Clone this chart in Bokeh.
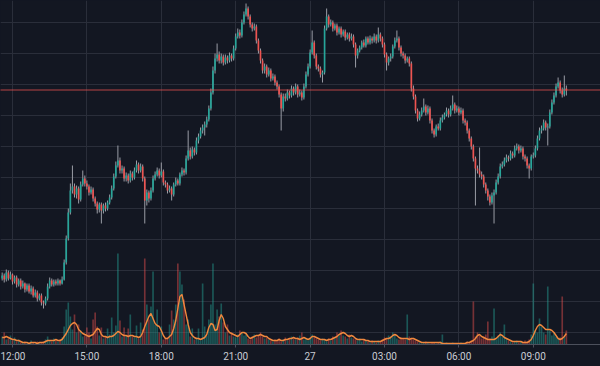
import pandas as pd
from bokeh.plotting import figure
from bokeh.models import (Range1d, FixedTicker, SingleIntervalTicker, Span,
                          ColumnDataSource, GlobalInlineStyleSheet)
from bokeh.embed import file_html
from bokeh.resources import INLINE

# ---------------- data (5-minute candles) ----------------
start_time = "2024-02-26 11:35"

open_ = [85,88,84,91,85,89,82,86,79,83,
77,80,74,78,72,75,68,71,65,68,
61,60,65,77,83,79,82,80,83,80,
84,101,125,151,173,177,169,175,164,179,
185,180,177,171,174,165,160,154,159,153,
158,155,161,166,175,187,198,203,193,195,
185,188,183,190,186,193,199,193,197,185,
163,171,165,173,185,189,193,188,192,181,
179,173,175,169,179,183,180,189,193,191,
205,213,207,214,211,223,227,233,236,239,
244,255,271,293,305,309,303,307,301,306,
303,308,305,315,327,331,328,341,349,355,
347,339,335,337,323,313,303,293,297,289,
293,285,287,281,277,269,255,267,265,271,
268,275,271,277,269,271,266,277,289,297,
311,321,308,297,295,289,291,335,347,339,
341,335,338,331,335,329,332,326,329,325,
327,319,308,313,316,321,318,325,321,325,
323,327,323,329,325,319,309,301,305,307,
317,323,325,316,310,308,303,305,300,275,
267,253,245,249,253,257,251,255,243,233,
229,237,235,243,246,249,253,249,255,259,
253,255,251,253,243,241,233,225,217,205,
195,193,189,187,179,173,167,161,168,171,
181,187,197,199,203,206,205,210,208,215,
217,213,215,207,205,198,195,207,208,215,
225,233,235,241,236,237,251,261,268,277,
281,273,269,275]

close = [88,84,91,85,89,82,86,79,83,77,
80,74,78,72,75,68,71,65,68,61,
60,65,77,83,79,82,80,83,80,84,
101,125,151,173,177,169,175,164,179,185,
180,177,171,174,165,160,154,159,153,158,
155,161,166,175,187,198,203,193,195,185,
188,183,190,186,193,199,193,197,185,163,
171,165,173,185,189,193,188,192,181,179,
173,175,169,179,183,180,189,193,191,205,
213,207,214,211,223,227,233,236,239,244,
255,271,293,305,309,303,307,301,306,303,
308,305,315,327,331,328,341,349,355,347,
339,335,337,323,313,303,293,297,289,293,
285,287,281,277,269,255,267,265,271,268,
275,271,277,269,271,266,277,289,297,311,
321,308,297,295,289,291,335,347,339,341,
335,338,331,335,329,332,326,329,325,327,
319,308,313,316,321,318,325,321,325,323,
327,323,329,325,319,309,301,305,307,317,
323,325,316,310,308,303,305,300,275,267,
253,245,249,253,257,251,255,243,233,229,
237,235,243,246,249,253,249,255,259,253,
255,251,253,243,241,233,225,217,205,195,
193,189,187,179,173,167,161,168,171,181,
187,197,199,203,206,205,210,208,215,217,
213,215,207,205,198,195,207,208,215,225,
233,235,241,236,237,251,261,268,277,281,
273,269,275,273]

high = [91,90,94,93,92,90,88,88,85,85,
83,81,80,80,78,77,74,73,70,70,
63,67,80,86,85,84,84,85,84,87,
104,128,155,180,198,180,178,177,182,193,
188,183,179,177,176,167,162,161,161,160,
161,163,169,178,190,202,218,206,198,197,
191,190,193,192,196,203,201,200,199,187,
174,173,176,188,192,196,195,201,194,183,
181,178,177,181,186,185,191,196,195,208,
233,216,217,216,226,230,236,239,242,247,
258,275,297,310,320,312,310,309,309,308,
311,310,318,330,335,334,344,352,360,357,
349,341,340,339,325,315,305,300,299,296,
295,290,289,283,279,271,270,270,274,273,
278,277,280,279,274,273,280,292,300,314,
333,323,310,299,297,293,338,355,349,344,
343,340,340,337,337,334,334,331,331,330,
329,321,315,318,323,324,327,327,328,327,
330,329,336,331,327,321,311,307,310,319,
326,333,327,318,312,310,307,307,302,278,
269,255,252,256,265,259,258,257,245,235,
239,240,246,249,251,256,255,258,268,261,
258,257,256,255,245,243,235,227,219,207,
198,216,192,189,181,175,169,171,174,184,
190,200,202,206,209,208,213,212,218,220,
219,218,217,209,207,200,209,211,218,228,
236,238,244,243,240,254,264,271,280,286,
283,276,288,278]

low = [83,81,82,83,84,79,80,76,77,74,
75,71,72,70,69,66,66,62,63,58,
55,58,63,75,77,77,78,78,78,79,
83,99,123,149,170,166,165,160,162,177,
177,174,168,169,162,157,150,151,140,150,
152,153,159,164,173,185,196,190,190,182,
182,180,181,183,184,191,190,191,182,140,
158,161,163,171,183,187,185,186,178,176,
170,171,163,167,177,178,178,187,188,189,
203,204,205,208,209,220,225,230,228,236,
242,253,269,290,302,300,300,298,299,300,
301,302,303,313,325,325,326,339,347,344,
336,332,333,320,310,300,290,290,286,287,
282,283,278,274,266,233,252,262,263,265,
266,268,269,266,267,263,264,275,287,295,
309,305,294,292,286,281,289,333,336,337,
332,333,328,329,326,327,323,324,322,323,
316,296,305,311,314,316,316,319,319,320,
321,320,321,322,316,306,293,298,302,305,
315,321,313,307,305,300,301,297,272,264,
250,242,243,247,251,248,249,240,230,226,
227,233,233,241,244,247,246,247,253,250,
251,248,249,240,238,230,222,214,202,158,
190,186,184,176,170,163,158,159,140,169,
179,185,195,197,201,202,203,205,206,213,
210,211,204,202,195,185,193,205,206,213,
223,230,233,233,218,235,249,259,266,275,
270,266,267,268]

volume = [8,12,5,6,9,4,7,3,5,2,
2,3,1,2,4,2,1,3,2,2,
3,5,8,4,3,6,4,3,5,7,
18,35,42,28,15,30,12,20,14,8,
9,17,12,6,25,32,18,9,17,6,
8,16,10,27,12,19,91,24,8,17,
9,16,30,8,7,19,6,22,15,86,
40,25,38,73,20,35,12,18,5,6,
7,20,34,25,40,81,73,60,45,20,
25,8,16,5,7,16,4,61,18,9,
25,40,81,20,35,28,41,22,12,20,
9,12,8,7,10,14,12,9,11,6,
5,8,10,7,9,12,8,6,7,5,
4,3,5,4,6,3,5,7,4,6,
8,6,5,7,9,12,5,6,4,7,
10,7,6,5,4,6,5,3,6,4,
8,7,12,10,14,9,8,6,10,7,
6,5,4,6,3,5,4,3,2,4,
3,2,4,3,5,7,6,9,8,12,
10,6,5,7,6,5,30,8,6,5,
4,3,2,1,2,3,2,1,2,2,
1,2,3,10,1,2,1,1,2,1,
1,1,2,1,1,3,2,4,43,8,
12,9,6,8,10,23,6,8,36,5,
9,12,8,20,6,4,3,2,3,4,
2,3,2,4,3,5,10,61,14,12,
26,18,12,10,58,14,9,12,8,6,
7,48,8,14]

volume_ma = [7,7,8,7,6,5,5,4,4,3,
2,2,2,1,2,2,2,1,2,2,
2,3,4,4,4,4,5,4,4,5,
8,11,15,19,21,22,20,15,13,11,
10,9,8,9,10,13,16,15,10,8,
8,7,8,8,9,11,13,12,10,9,
9,8,9,9,8,8,7,8,12,18,
23,28,31,26,21,19,18,14,9,6,
6,8,10,16,24,36,48,50,40,30,
20,12,9,7,6,6,5,6,7,10,
17,21,20,14,15,24,30,26,18,15,
12,11,10,9,8,10,12,12,11,8,
6,7,8,9,9,10,9,8,8,6,
5,4,4,4,5,4,4,5,5,6,
6,7,6,6,5,6,7,6,5,6,
8,8,7,6,5,5,5,4,5,5,
6,7,8,10,11,12,11,9,8,9,
8,6,5,5,5,5,4,4,3,3,
3,3,3,3,4,5,6,6,7,9,
10,9,7,6,6,6,6,5,6,6,
5,4,3,2,2,2,2,2,2,2,
2,2,2,1,1,1,1,1,1,1,
1,1,1,1,1,2,2,3,4,6,
9,10,8,7,6,5,5,5,5,6,
8,10,9,7,6,5,4,3,3,3,
3,3,2,2,2,3,5,9,14,18,
20,19,17,15,15,15,14,12,9,6,
5,6,8,11]

last_price = 273.5

tick_times = ["2024-02-26 12:00", "2024-02-26 15:00", "2024-02-26 18:00", "2024-02-26 21:00",
              "2024-02-27 00:00", "2024-02-27 03:00", "2024-02-27 06:00", "2024-02-27 09:00"]
tick_labels = ["12:00", "15:00", "18:00", "21:00", "27", "03:00", "06:00", "09:00"]

view_start = "2024-02-26 11:30:58"
view_end = "2024-02-27 11:42:35"

# ---------------- styling ----------------
BG = "#131722"
GRID = "#2a2e3a"
UP = "#26a69a"
DOWN = "#ef5350"
WICK = "#9a9da6"
TEXT = "#c9ccd3"

times = pd.date_range(start_time, periods=len(close), freq="5min")
is_up = [c >= o for o, c in zip(open_, close)]
src = ColumnDataSource(dict(
    t=times,
    open=open_, close=close, high=high, low=low,
    top=[max(o, c) for o, c in zip(open_, close)],
    bottom=[min(o, c) for o, c in zip(open_, close)],
    color=[UP if u else DOWN for u in is_up],
    volume=volume, ma=volume_ma,
))

p = figure(width=600, height=366, x_axis_type="datetime", y_axis_location=None,
           output_backend="svg", toolbar_location=None,
           x_range=Range1d(pd.Timestamp(view_start), pd.Timestamp(view_end)),
           y_range=Range1d(19, 363),
           min_border_left=0, min_border_right=0, min_border_top=0, min_border_bottom=22)
p.extra_y_ranges = {"vol": Range1d(0, 344)}

p.background_fill_color = BG
p.border_fill_color = BG
p.outline_line_color = None

p.ygrid.ticker = SingleIntervalTicker(interval=31)
p.grid.grid_line_color = GRID
p.grid.grid_line_width = 1

tick_ms = [pd.Timestamp(t).value // 10**6 for t in tick_times]
p.xaxis.ticker = FixedTicker(ticks=tick_ms)
p.xaxis.major_label_overrides = {ms: lbl for ms, lbl in zip(tick_ms, tick_labels)}
p.xgrid.ticker = FixedTicker(ticks=tick_ms)
p.xaxis.axis_line_color = "#4c505c"
p.xaxis.axis_line_width = 1
p.xaxis.major_tick_line_color = "#4c505c"
p.xaxis.major_tick_out = 3
p.xaxis.major_tick_in = 0
p.xaxis.minor_tick_line_color = None
p.xaxis.major_label_text_color = TEXT
p.xaxis.major_label_text_font = "Roboto"
p.xaxis.major_label_text_font_size = "10px"
p.xaxis.major_label_standoff = 3

# volume
p.vbar(x="t", top="volume", bottom=0, width=240000, source=src, y_range_name="vol",
       fill_color="color", fill_alpha=0.45, line_color=None)
p.line(x="t", y="ma", source=src, y_range_name="vol", line_color="#f0883e", line_width=1.4)

# candles
p.segment(x0="t", y0="high", x1="t", y1="low", source=src, line_color=WICK, line_width=1)
p.vbar(x="t", top="top", bottom="bottom", width=240000, source=src,
       fill_color="color", line_color=None)

p.add_layout(Span(location=last_price, dimension="width", line_color=DOWN,
                  line_dash="1 1", line_width=1.5))

p.stylesheets = [GlobalInlineStyleSheet(
    css="html, body { margin: 0; padding: 0; background: #131722; overflow: hidden; }")]

open("out.html", "w").write(file_html(p, INLINE))
